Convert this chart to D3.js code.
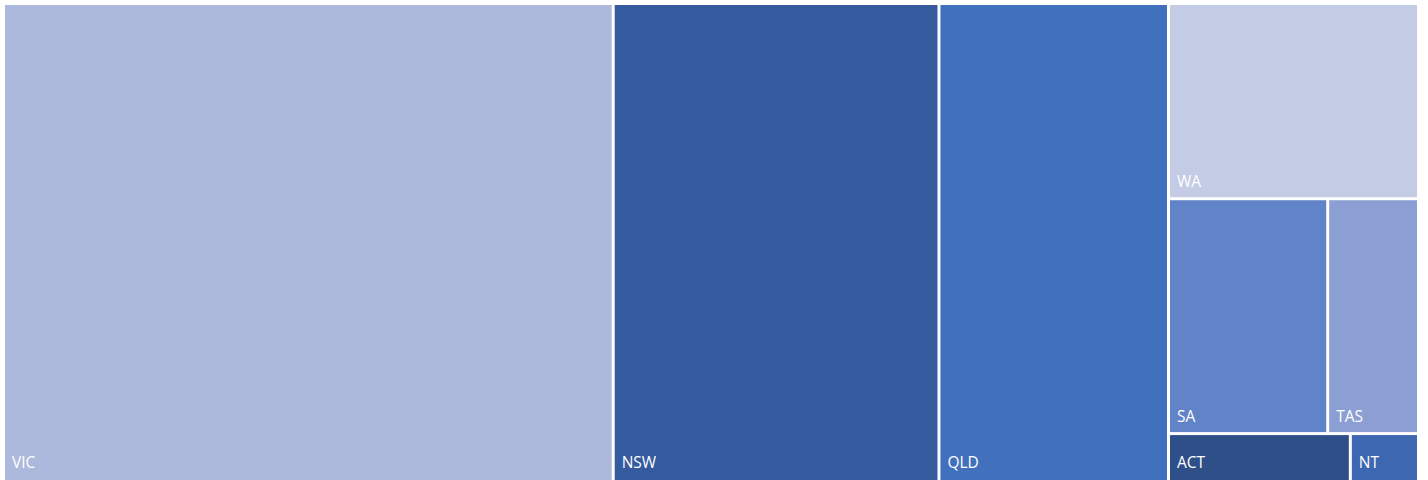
<!DOCTYPE html>
<html><head><meta charset="utf-8">
<script src="https://cdn.jsdelivr.net/npm/d3@7"></script>
<style>html,body{margin:0;padding:0;background:#fff;overflow:hidden}</style>
</head><body><svg id="chart" width="1428" height="480"></svg>
<script>
// Data
const categories = ["VIC", "NSW", "QLD", "WA", "SA", "TAS", "ACT", "NT"];
const values = [2890, 1544, 1088, 483, 370, 211, 88, 33];
const palette = ["#adb9dc", "#355a9e", "#4170bd", "#c4cce5", "#6183c8", "#8b9fd4", "#2f4f89", "#3d67b0"];
// number of items in each successive strip of the tiling
const stripSizes = [1, 1, 1, 1, 2, 1, 1];

const W = 1428, H = 480;
const margin = {left: 5, top: 5, right: 11, bottom: -1};
const innerW = W - margin.left - margin.right;
const innerH = H - margin.top - margin.bottom;

const color = d3.scaleOrdinal().domain(categories).range(palette);

function stripTile(parent, x0, y0, x1, y1) {
  const nodes = parent.children;
  let value = parent.value, i = 0;
  for (const k of stripSizes) {
    if (i >= nodes.length) break;
    const kids = nodes.slice(i, i + k);
    const row = {children: kids, value: d3.sum(kids, d => d.value)};
    const dx = x1 - x0, dy = y1 - y0;
    if (dx < dy) {
      d3.treemapDice(row, x0, y0, x1, y0 += dy * row.value / value);
    } else {
      d3.treemapSlice(row, x0, y0, x0 += dx * row.value / value, y1);
    }
    value -= row.value;
    i += k;
  }
}

const root = d3.hierarchy({children: categories.map((c, i) => ({name: c, value: values[i]}))})
  .sum(d => d.value || 0);

d3.treemap()
  .size([innerW, innerH])
  .paddingInner(3)
  .tile(stripTile)(root);

const svg = d3.select("#chart");
const g = svg.append("g").attr("transform", `translate(${margin.left},${margin.top})`);

const cell = g.selectAll("g.cell").data(root.leaves()).join("g").attr("class", "cell");

cell.append("rect")
  .attr("x", d => d.x0)
  .attr("y", d => d.y0)
  .attr("width", d => d.x1 - d.x0)
  .attr("height", d => d.y1 - d.y0)
  .attr("fill", d => color(d.data.name));

cell.append("text")
  .attr("x", d => d.x0 + 7)
  .attr("y", d => Math.min(d.y1, innerH - 3) - 10)
  .attr("fill", "#ffffff")
  .style("font-family", "'Open Sans', 'Liberation Sans', sans-serif")
  .style("font-size", "15.5px")
  .text(d => d.data.name);
</script>
</body></html>
